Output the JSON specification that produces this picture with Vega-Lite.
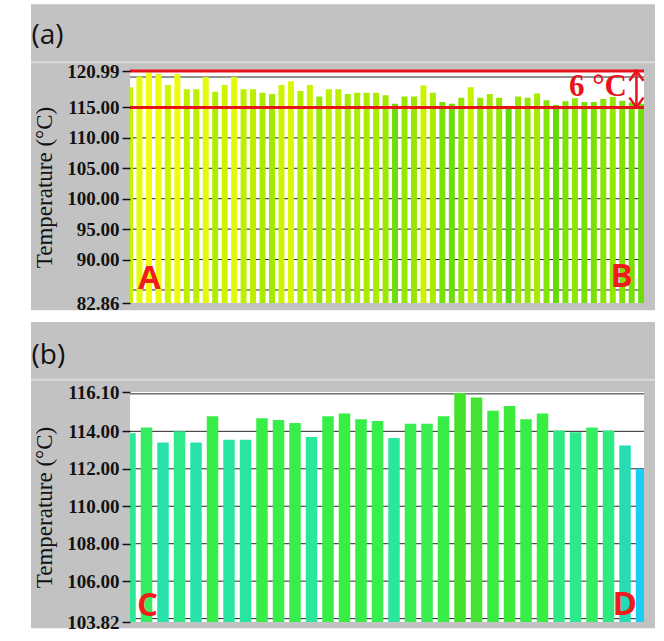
{
  "$schema": "https://vega.github.io/schema/vega-lite/v6.json",
  "background": "#ffffff",
  "padding": {"left": 30, "top": 4, "right": 10, "bottom": 13},
  "autosize": {"type": "pad"},
  "bounds": "flush",
  "spacing": 89,
  "resolve": {"scale": {"color": "independent"}},
  "config": {
    "view": {"stroke": null},
    "axisY": {
      "grid": false,
      "domain": false,
      "tickSize": 8,
      "tickWidth": 1.5,
      "tickColor": "#111111",
      "labelPadding": 3,
      "labelFont": "Liberation Serif",
      "labelFontSize": 19,
      "labelFontWeight": "bold",
      "labelColor": "#111111",
      "titleFont": "Liberation Serif",
      "titleFontSize": 23,
      "titleFontWeight": "normal",
      "titleColor": "#111111",
      "titlePadding": 10
    }
  },
  "datasets": {
    "tempA": [
      {"idx": 0, "temp": 118.3}, {"idx": 1, "temp": 120.1}, {"idx": 2, "temp": 120.7}, {"idx": 3, "temp": 120.5},
      {"idx": 4, "temp": 118.7}, {"idx": 5, "temp": 120.5}, {"idx": 6, "temp": 118.0}, {"idx": 7, "temp": 118.0},
      {"idx": 8, "temp": 120.0}, {"idx": 9, "temp": 117.6}, {"idx": 10, "temp": 118.7}, {"idx": 11, "temp": 120.0},
      {"idx": 12, "temp": 118.0}, {"idx": 13, "temp": 118.0}, {"idx": 14, "temp": 117.4}, {"idx": 15, "temp": 117.2},
      {"idx": 16, "temp": 118.7}, {"idx": 17, "temp": 119.3}, {"idx": 18, "temp": 117.7}, {"idx": 19, "temp": 118.7},
      {"idx": 20, "temp": 116.8}, {"idx": 21, "temp": 118.0}, {"idx": 22, "temp": 118.0}, {"idx": 23, "temp": 117.2},
      {"idx": 24, "temp": 117.4}, {"idx": 25, "temp": 117.4}, {"idx": 26, "temp": 117.4}, {"idx": 27, "temp": 117.0},
      {"idx": 28, "temp": 115.6}, {"idx": 29, "temp": 116.8}, {"idx": 30, "temp": 116.8}, {"idx": 31, "temp": 118.6},
      {"idx": 32, "temp": 117.4}, {"idx": 33, "temp": 115.9}, {"idx": 34, "temp": 115.6}, {"idx": 35, "temp": 116.6},
      {"idx": 36, "temp": 118.3}, {"idx": 37, "temp": 116.6}, {"idx": 38, "temp": 117.2}, {"idx": 39, "temp": 116.6},
      {"idx": 40, "temp": 115.2}, {"idx": 41, "temp": 116.8}, {"idx": 42, "temp": 116.6}, {"idx": 43, "temp": 117.3},
      {"idx": 44, "temp": 116.2}, {"idx": 45, "temp": 115.4}, {"idx": 46, "temp": 116.0}, {"idx": 47, "temp": 116.5},
      {"idx": 48, "temp": 115.9}, {"idx": 49, "temp": 115.9}, {"idx": 50, "temp": 116.4}, {"idx": 51, "temp": 116.7},
      {"idx": 52, "temp": 116.1}, {"idx": 53, "temp": 115.8}, {"idx": 54, "temp": 115.6}
    ],
    "tempB": [
      {"idx": 0, "temp": 113.9}, {"idx": 1, "temp": 114.2}, {"idx": 2, "temp": 113.4}, {"idx": 3, "temp": 114.0},
      {"idx": 4, "temp": 113.4}, {"idx": 5, "temp": 114.8}, {"idx": 6, "temp": 113.55}, {"idx": 7, "temp": 113.55},
      {"idx": 8, "temp": 114.7}, {"idx": 9, "temp": 114.6}, {"idx": 10, "temp": 114.45}, {"idx": 11, "temp": 113.7},
      {"idx": 12, "temp": 114.8}, {"idx": 13, "temp": 114.95}, {"idx": 14, "temp": 114.65}, {"idx": 15, "temp": 114.55},
      {"idx": 16, "temp": 113.65}, {"idx": 17, "temp": 114.4}, {"idx": 18, "temp": 114.4}, {"idx": 19, "temp": 114.8},
      {"idx": 20, "temp": 116.05}, {"idx": 21, "temp": 115.8}, {"idx": 22, "temp": 115.1}, {"idx": 23, "temp": 115.35},
      {"idx": 24, "temp": 114.65}, {"idx": 25, "temp": 114.95}, {"idx": 26, "temp": 114.05}, {"idx": 27, "temp": 113.95},
      {"idx": 28, "temp": 114.2}, {"idx": 29, "temp": 114.05}, {"idx": 30, "temp": 113.25}, {"idx": 31, "temp": 112.0}
    ],
    "gridA": [
      {"temp": 85}, {"temp": 90}, {"temp": 95}, {"temp": 100}, {"temp": 105}, {"temp": 110}, {"temp": 115}, {"temp": 120}
    ],
    "gridB": [
      {"temp": 104}, {"temp": 106}, {"temp": 108}, {"temp": 110}, {"temp": 112}, {"temp": 114}, {"temp": 116}
    ]
  },
  "vconcat": [
    {
      "width": 514,
      "height": 232,
      "resolve": {"axis": {"y": "independent"}},
      "layer": [
        {
          "data": {"values": [{}]},
          "mark": {"type": "rect", "color": "#c2c2c2", "clip": false},
          "encoding": {
            "x": {"datum": -10.458, "axis": null},
            "x2": {"datum": 55.46},
            "y": {"datum": 131.95, "axis": null},
            "y2": {"datum": 81.66}
          }
        },
        {
          "data": {"values": [{}]},
          "mark": {"type": "rule", "color": "#dadada", "strokeWidth": 2, "clip": false},
          "encoding": {
            "x": {"datum": -10.458, "axis": null},
            "x2": {"datum": 55.46},
            "y": {"datum": 122.42, "axis": null}
          }
        },
        {
          "data": {"values": [{}]},
          "mark": {"type": "rect", "color": "#ffffff"},
          "encoding": {
            "x": {"datum": 0, "axis": null},
            "x2": {"datum": 54.3},
            "y": {"datum": 120.99, "axis": null},
            "y2": {"datum": 82.86}
          }
        },
        {
          "data": {"name": "gridA"},
          "mark": {"type": "rule", "color": "#262626", "strokeWidth": 1},
          "encoding": {"y": {"field": "temp", "type": "quantitative", "axis": null}}
        },
        {
          "data": {"name": "tempA"},
          "mark": {"type": "bar", "orient": "vertical", "size": 6, "clip": true},
          "encoding": {
            "x": {"field": "idx", "type": "quantitative", "scale": {"domain": [0, 54.3], "nice": false, "zero": false, "padding": 0}, "axis": null},
            "y": {
              "field": "temp",
              "type": "quantitative",
              "scale": {"domain": [82.86, 120.99], "nice": false, "zero": false},
              "axis": {"orient": "left", "values": [82.86, 90, 95, 100, 105, 110, 115, 120.99], "format": ".2f", "labelOverlap": false, "title": "Temperature (°C)", "zindex": 1}
            },
            "color": {
              "field": "temp",
              "type": "quantitative",
              "scale": {
                "domain": [115.2, 116.0, 117.0, 118.0, 119.0, 120.6],
                "range": ["#5ed90c", "#7ee206", "#9cea00", "#bcf000", "#d6f600", "#eefc10"],
                "interpolate": "rgb"
              },
              "legend": null
            }
          }
        },
        {
          "data": {"values": [{"limit": 120.99}, {"limit": 115.0}]},
          "mark": {"type": "rule", "color": "#e8121a", "strokeWidth": 3},
          "encoding": {"y": {"field": "limit", "type": "quantitative", "axis": null}}
        },
        {
          "data": {"values": [{}]},
          "mark": {"type": "rule", "color": "#e8121a", "strokeWidth": 2.5},
          "encoding": {
            "x": {"datum": 53.5, "axis": null},
            "y": {"datum": 120.99, "axis": null},
            "y2": {"datum": 115.0}
          }
        },
        {
          "data": {"values": [{}]},
          "mark": {"type": "point", "shape": "M-1,1.4L0,0L1,1.4", "filled": false, "size": 196, "strokeWidth": 2.5, "color": "#e8121a", "opacity": 1},
          "encoding": {
            "x": {"datum": 53.5, "axis": null},
            "y": {"datum": 120.99, "axis": null}
          }
        },
        {
          "data": {"values": [{}]},
          "mark": {"type": "point", "shape": "M-1,-1.4L0,0L1,-1.4", "filled": false, "size": 196, "strokeWidth": 2.5, "color": "#e8121a", "opacity": 1},
          "encoding": {
            "x": {"datum": 53.5, "axis": null},
            "y": {"datum": 115.0, "axis": null}
          }
        },
        {
          "data": {"values": [{}]},
          "mark": {"type": "text", "text": "6 °C", "font": "Liberation Serif", "fontSize": 31, "fontWeight": "bold", "color": "#e8121a", "align": "right", "baseline": "alphabetic"},
          "encoding": {
            "x": {"datum": 52.5, "axis": null},
            "y": {"datum": 116.95, "axis": null}
          }
        },
        {
          "data": {"values": [{}]},
          "mark": {"type": "text", "text": "A", "font": "Open Sans", "fontSize": 33, "fontWeight": "bold", "color": "#ee1c1c", "align": "left", "baseline": "alphabetic"},
          "encoding": {
            "x": {"datum": 0.845, "axis": null},
            "y": {"datum": 85.2, "axis": null}
          }
        },
        {
          "data": {"values": [{}]},
          "mark": {"type": "text", "text": "B", "font": "Open Sans", "fontSize": 33, "fontWeight": "bold", "color": "#ee1c1c", "align": "right", "baseline": "alphabetic"},
          "encoding": {
            "x": {"datum": 53.1, "axis": null},
            "y": {"datum": 85.5, "axis": null}
          }
        },
        {
          "data": {"values": [{}]},
          "mark": {"type": "text", "text": "(a)", "font": "Open Sans", "fontSize": 28, "color": "#111111", "align": "left", "baseline": "alphabetic", "clip": false},
          "encoding": {
            "x": {"datum": -10.41, "axis": null},
            "y": {"datum": 125.49, "axis": null}
          }
        }
      ]
    },
    {
      "width": 514,
      "height": 230,
      "resolve": {"axis": {"y": "independent"}},
      "layer": [
        {
          "data": {"values": [{}]},
          "mark": {"type": "rect", "color": "#c2c2c2", "clip": false},
          "encoding": {
            "x": {"datum": -5.999, "axis": null},
            "x2": {"datum": 31.816},
            "y": {"datum": 119.84, "axis": null},
            "y2": {"datum": 103.48}
          }
        },
        {
          "data": {"values": [{}]},
          "mark": {"type": "rule", "color": "#dadada", "strokeWidth": 2, "clip": false},
          "encoding": {
            "x": {"datum": -5.999, "axis": null},
            "x2": {"datum": 31.816},
            "y": {"datum": 116.76, "axis": null}
          }
        },
        {
          "data": {"values": [{}]},
          "mark": {"type": "rect", "color": "#ffffff"},
          "encoding": {
            "x": {"datum": 0, "axis": null},
            "x2": {"datum": 31.15},
            "y": {"datum": 116.1, "axis": null},
            "y2": {"datum": 103.82}
          }
        },
        {
          "data": {"name": "gridB"},
          "mark": {"type": "rule", "color": "#262626", "strokeWidth": 1},
          "encoding": {"y": {"field": "temp", "type": "quantitative", "axis": null}}
        },
        {
          "data": {"name": "tempB"},
          "mark": {"type": "bar", "orient": "vertical", "size": 11.5, "clip": true},
          "encoding": {
            "x": {"field": "idx", "type": "quantitative", "scale": {"domain": [0, 31.15], "nice": false, "zero": false, "padding": 0}, "axis": null},
            "y": {
              "field": "temp",
              "type": "quantitative",
              "scale": {"domain": [103.82, 116.1], "nice": false, "zero": false},
              "axis": {"orient": "left", "values": [103.82, 106, 108, 110, 112, 114, 116.1], "format": ".2f", "labelOverlap": false, "title": "Temperature (°C)", "zindex": 1}
            },
            "color": {
              "field": "temp",
              "type": "quantitative",
              "scale": {
                "domain": [112.0, 113.25, 113.5, 113.9, 114.1, 114.25, 115.0, 116.1],
                "range": ["#1ccdf2", "#26dcb4", "#28e6a2", "#2ce894", "#30eb7c", "#36ee52", "#38ee42", "#44e02a"],
                "interpolate": "rgb"
              },
              "legend": null
            }
          }
        },
        {
          "data": {"values": [{}]},
          "mark": {"type": "text", "text": "C", "font": "Open Sans", "fontSize": 33, "fontWeight": "bold", "color": "#ee1c1c", "align": "left", "baseline": "alphabetic"},
          "encoding": {
            "x": {"datum": 0.42, "axis": null},
            "y": {"datum": 104.15, "axis": null}
          }
        },
        {
          "data": {"values": [{}]},
          "mark": {"type": "text", "text": "D", "font": "Open Sans", "fontSize": 33, "fontWeight": "bold", "color": "#ee1c1c", "align": "right", "baseline": "alphabetic"},
          "encoding": {
            "x": {"datum": 30.72, "axis": null},
            "y": {"datum": 104.17, "axis": null}
          }
        },
        {
          "data": {"values": [{}]},
          "mark": {"type": "text", "text": "(b)", "font": "Open Sans", "fontSize": 28, "color": "#111111", "align": "left", "baseline": "alphabetic", "clip": false},
          "encoding": {
            "x": {"datum": -5.97, "axis": null},
            "y": {"datum": 117.62, "axis": null}
          }
        }
      ]
    }
  ]
}
